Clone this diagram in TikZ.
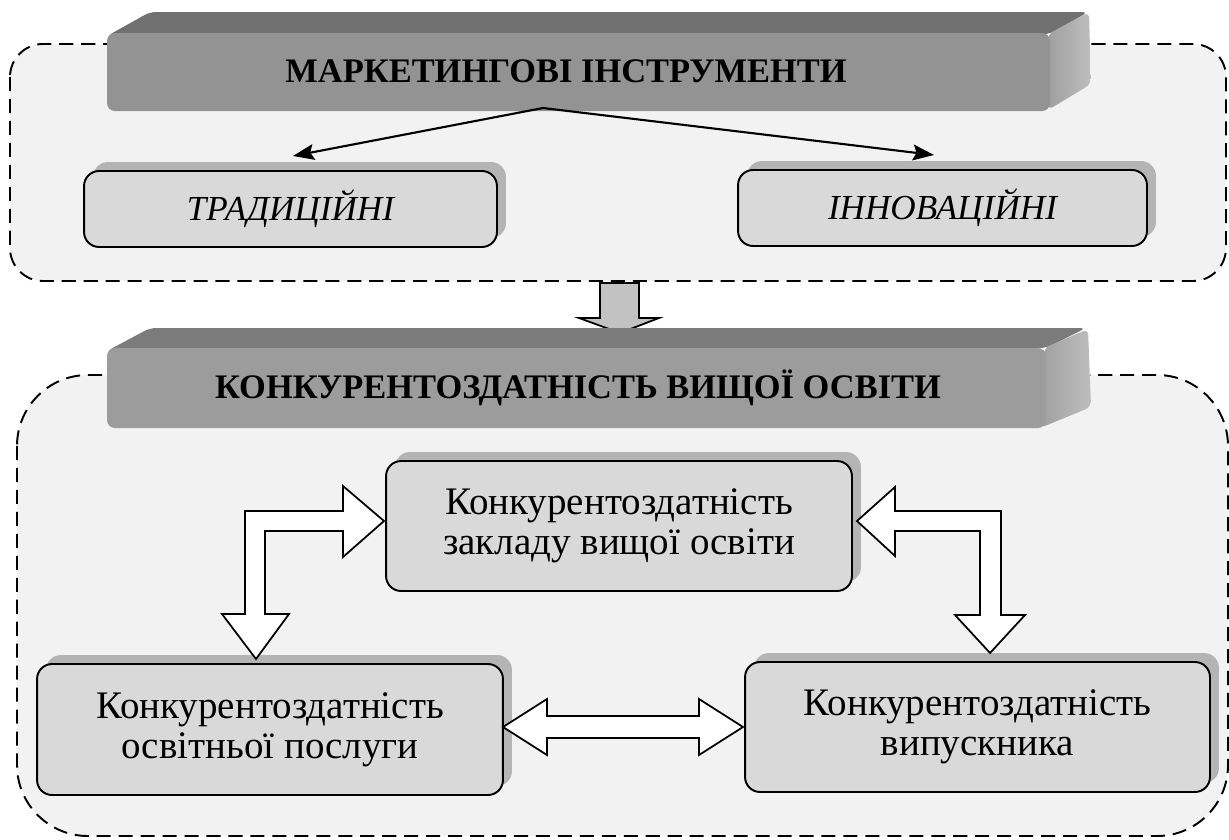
\documentclass[tikz,border=0pt]{standalone}
\usepackage{fontspec}
\setmainfont{Liberation Serif}
\usetikzlibrary{arrows.meta,shadows}

\definecolor{panelgray}{HTML}{F2F2F2}
\definecolor{cardgray}{HTML}{D9D9D9}
\definecolor{shadowgray}{HTML}{B4B4B4}
\definecolor{frontA}{HTML}{939393}
\definecolor{topA}{HTML}{717171}
\definecolor{frontB}{HTML}{9C9C9C}
\definecolor{topB}{HTML}{7B7B7B}
\definecolor{sideL}{HTML}{A0A0A0}
\definecolor{sideR}{HTML}{BEBEBE}
\definecolor{downgray}{HTML}{C2C2C2}

\newcommand\cardfont{\fontsize{22.2}{23}\selectfont}
\newcommand\bannerfont{\fontsize{19.6}{21}\selectfont\bfseries}
\newcommand\kindfont{\fontsize{20}{21}\selectfont\itshape}

\begin{document}
\begin{tikzpicture}[x=0.02cm,y=-0.02cm,
  panel/.style={draw=black, fill=panelgray, line width=1.1pt,
    dash pattern=on 8pt off 4.5pt},
  card/.style={draw=black, fill=cardgray, line width=1.1pt,
    rounded corners=0.3cm, align=center, inner sep=0pt,
    general shadow={fill=shadowgray, shadow xshift=0.18cm, shadow yshift=0.18cm}},
  blockarrow/.style={draw=black, fill=white, line width=1pt, line join=miter},
  thinarrow/.style={line width=1.2pt, -{Stealth[length=12pt,width=9pt,inset=2pt]}},
  bannertext/.style={font=\bannerfont, inner sep=0pt}
]
\useasboundingbox (0,0) rectangle (1229,839);
\fill[white] (0,0) rectangle (1229,839);

% dashed group frames
\path[panel, rounded corners=0.66cm] (10,44) rectangle (1226,281);
\path[panel, rounded corners=1.42cm] (17,375) rectangle (1228,836);

% banner of the upper group
\fill[topA, rounded corners=0.12cm] (107,36) -- (150,12) -- (1088,12) -- (1050,34) -- cycle;
\shade[left color=sideL, right color=sideR, rounded corners=0.12cm]
  (1048,34) -- (1089,12) -- (1091,84) -- (1048,110) -- cycle;
\fill[frontA, rounded corners=0.16cm] (107,33) rectangle (1050,111);
\node[bannertext] (tools) at (566,71) {МАРКЕТИНГОВІ ІНСТРУМЕНТИ};

% the two kinds of tools
\node[card, minimum width=8.26cm, minimum height=1.52cm, font=\kindfont]
  (trad) at (290.5,209) {ТРАДИЦІЙНІ};
\node[card, minimum width=8.18cm, minimum height=1.52cm, font=\kindfont]
  (innov) at (942.5,208) {ІННОВАЦІЙНІ};

\coordinate (fork) at (543,108);
\coordinate (tradtip) at (293,156);
\coordinate (innovtip) at (934,155);
\draw[thinarrow] (fork) -- (tradtip);
\draw[thinarrow] (fork) -- (innovtip);

% link between the groups
\draw[blockarrow, fill=downgray] (600,283) -- (639,283) -- (639,318) -- (659,318)
  -- (620,333) -- (579,318) -- (600,318) -- cycle;

% banner of the lower group
\fill[topB, rounded corners=0.12cm] (107,351) -- (150,328) -- (1086,328) -- (1046,348) -- cycle;
\shade[left color=sideL, right color=sideR, rounded corners=0.12cm]
  (1044,348) -- (1088,329) -- (1091,407) -- (1040,428) -- cycle;
\fill[frontB, rounded corners=0.16cm] (107,348) rectangle (1046,428);
\node[bannertext] (compet) at (578,388) {КОНКУРЕНТОЗДАТНІСТЬ ВИЩОЇ ОСВІТИ};

% the three levels of competitiveness
\node[card, minimum width=9.32cm, minimum height=2.6cm, font=\cardfont]
  (inst) at (619,526) {Конкурентоздатність\\закладу вищої освіти};
\node[card, minimum width=9.32cm, minimum height=2.62cm, font=\cardfont]
  (serv) at (270,729.5) {Конкурентоздатність\\освітньої послуги};
\node[card, minimum width=9.3cm, minimum height=2.6cm, font=\cardfont]
  (grad) at (977.5,727) {Конкурентоздатність\\випускника};

% two-way block arrows
\draw[blockarrow] (384,521) -- (343,486) -- (343,511) -- (245,511) -- (245,614)
  -- (222,614) -- (256,659) -- (289,614) -- (265,614) -- (265,531) -- (343,531)
  -- (343,557) -- cycle;
\draw[blockarrow] (857,521) -- (895,487) -- (895,511) -- (1001,511) -- (1001,615)
  -- (1025,615) -- (990,653) -- (955,615) -- (980,615) -- (980,531) -- (895,531)
  -- (895,556) -- cycle;
\draw[blockarrow] (503,727) -- (547,699) -- (547,716) -- (699,716) -- (699,699)
  -- (743,727) -- (699,755) -- (699,738) -- (547,738) -- (547,755) -- cycle;
\end{tikzpicture}
\end{document}
